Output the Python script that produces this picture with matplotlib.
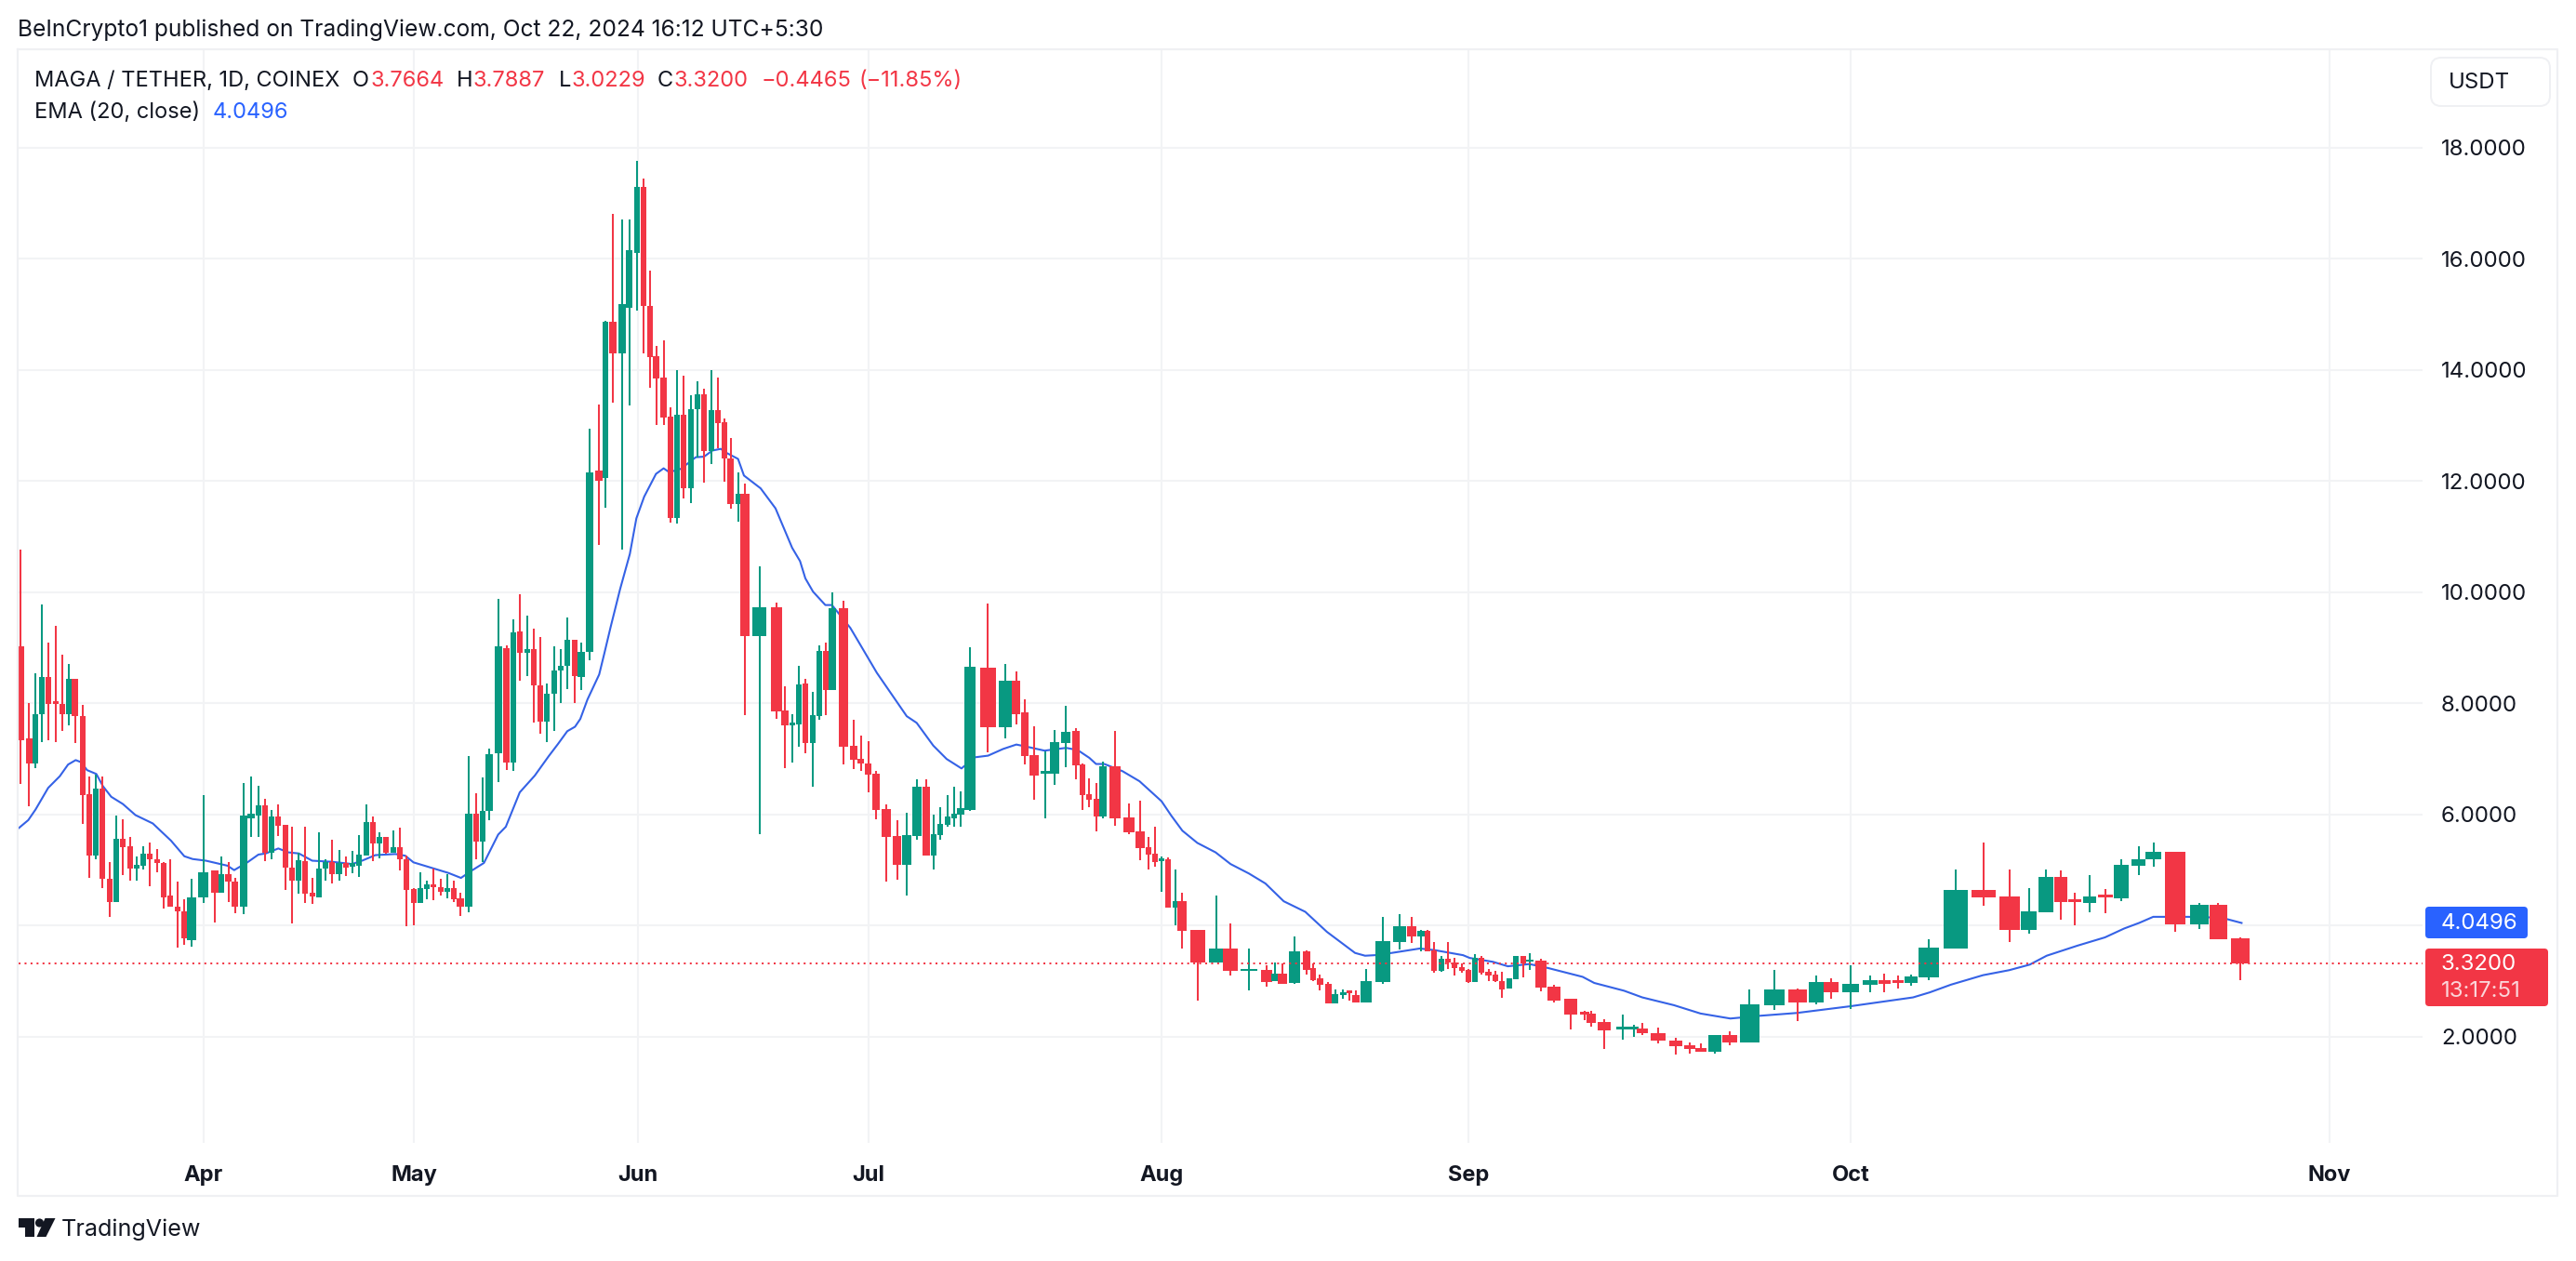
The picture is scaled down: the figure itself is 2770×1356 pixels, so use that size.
#!/usr/bin/env python3
# -*- coding: utf-8 -*-

import numpy as np
import matplotlib
matplotlib.use("Agg")
import matplotlib.pyplot as plt
from matplotlib.patches import Circle, FancyBboxPatch, Polygon

plt.rcParams['font.family'] = ['Inter', 'DejaVu Sans']

# bars (the time axis of this image is not linear,
# so the bar positions are read too, in the axis' own units)
bar_x = [
    22.1, 31.1, 38.2, 45.0, 52.1, 60.0, 66.8, 73.9, 80.7, 88.9,
    96.1, 103.2, 110.0, 117.9, 125.0, 132.1, 140.0, 146.8, 153.9, 161.1,
    168.9, 175.7, 182.9, 191.1, 197.9, 206.1, 218.9, 230.7, 237.9, 245.7,
    252.9, 261.8, 270.0, 277.9, 285.0, 292.1, 298.9, 306.8, 313.9, 320.7,
    327.9, 336.1, 342.9, 350.0, 356.8, 364.6, 371.8, 378.9, 386.1, 393.9,
    401.1, 407.9, 415.0, 422.9, 430.0, 436.8, 445.0, 451.8, 458.9, 466.1,
    473.9, 481.1, 487.9, 495.0, 503.9, 511.8, 518.9, 526.1, 536.1, 544.6,
    551.8, 559.0, 567.0, 574.0, 581.0, 588.0, 596.0, 603.0, 610.0, 618.0,
    625.0, 634.0, 644.0, 651.0, 658.9, 668.9, 676.8, 685.0, 691.8, 698.9,
    705.7, 713.6, 720.7, 727.9, 735.0, 742.9, 750.0, 756.8, 765.0, 771.8,
    778.9, 785.7, 793.9, 800.7, 816.8, 835.0, 843.9, 851.8, 858.9, 866.0,
    873.9, 881.0, 888.2, 895.0, 906.8, 917.9, 925.7, 933.9, 941.8, 952.9,
    964.6, 975.0, 986.0, 996.0, 1003.9, 1011.0, 1018.9, 1026.0, 1033.2, 1042.9,
    1062.1, 1081.1, 1092.9, 1101.8, 1111.8, 1123.9, 1133.9, 1146.1, 1156.8, 1163.9,
    1171.0, 1178.9, 1186.1, 1198.9, 1213.9, 1226.1, 1235.0, 1241.8, 1249.3, 1256.0,
    1263.9, 1271.0, 1287.9, 1307.9, 1322.9, 1342.9, 1362.1, 1370.7, 1378.9, 1391.8,
    1405.0, 1412.1, 1419.3, 1428.2, 1435.7, 1444.3, 1450.7, 1457.9, 1468.9, 1486.8,
    1505.0, 1517.9, 1527.9, 1535.0, 1542.1, 1550.0, 1557.1, 1563.9, 1571.8, 1578.9,
    1585.7, 1592.9, 1600.7, 1607.9, 1615.0, 1622.9, 1630.0, 1637.9, 1645.0, 1656.8,
    1671.0, 1688.9, 1703.9, 1711.0, 1725.0, 1745.0, 1757.1, 1766.1, 1783.2, 1802.1,
    1816.8, 1828.9, 1843.9, 1860.0, 1881.1, 1907.9, 1932.9, 1952.9, 1968.9, 1990.0,
    2011.1, 2026.1, 2041.1, 2055.0, 2073.9, 2103.2, 2133.2, 2161.1, 2181.8, 2200.0,
    2216.1, 2231.1, 2246.8, 2264.0, 2281.0, 2299.8, 2315.8, 2339.3, 2365.0, 2385.2,
    2409.0,
]

bar_open = [
    9.02, 7.37, 6.92, 7.81, 8.48, 8.01, 7.99, 7.81, 8.44, 7.77,
    6.36, 5.26, 6.47, 4.85, 4.43, 5.57, 5.43, 5.02, 5.08, 5.30,
    5.20, 5.13, 4.55, 4.35, 4.26, 3.74, 4.51, 4.99, 4.59, 4.92,
    4.80, 4.34, 5.94, 5.99, 6.17, 5.32, 5.96, 5.81, 5.05, 4.81,
    5.17, 4.59, 4.51, 5.02, 5.15, 4.92, 5.13, 5.07, 5.08, 5.26,
    5.86, 5.48, 5.59, 5.32, 5.41, 5.19, 4.66, 4.41, 4.66, 4.75,
    4.70, 4.61, 4.67, 4.50, 4.34, 6.01, 5.51, 6.06, 7.10, 9.00,
    6.93, 9.29, 8.91, 8.97, 8.33, 7.68, 8.17, 8.59, 8.67, 9.14,
    8.48, 8.92, 12.19, 12.06, 14.86, 14.29, 15.11, 16.10, 17.29, 15.16,
    14.24, 13.86, 13.16, 11.34, 13.19, 11.87, 13.30, 13.57, 12.54, 13.27,
    13.06, 12.40, 11.59, 11.77, 9.21, 9.73, 7.87, 7.60, 7.63, 8.36,
    7.29, 7.77, 8.94, 8.24, 9.71, 7.23, 7.00, 6.92, 6.73, 6.10,
    5.61, 5.10, 5.61, 6.50, 5.26, 5.63, 5.81, 5.94, 6.00, 6.08,
    8.64, 7.57, 8.41, 7.84, 7.07, 6.74, 6.74, 7.29, 7.50, 6.90,
    6.37, 6.28, 5.96, 6.87, 5.95, 5.70, 5.41, 5.29, 5.16, 5.20,
    4.33, 4.44, 3.92, 3.33, 3.59, 3.18, 3.20, 3.00, 3.13, 2.97,
    3.54, 3.23, 3.05, 2.95, 2.60, 2.75, 2.81, 2.76, 2.62, 2.98,
    3.71, 3.99, 3.81, 3.91, 3.56, 3.18, 3.41, 3.33, 3.25, 3.20,
    2.98, 3.43, 3.17, 3.12, 3.01, 2.87, 3.04, 3.45, 3.35, 3.37,
    2.90, 2.68, 2.42, 2.41, 2.26, 2.14, 2.14, 2.15, 2.07, 1.94,
    1.85, 1.80, 1.74, 2.03, 1.90, 2.57, 2.85, 2.62, 2.99, 2.80,
    2.94, 3.02, 3.00, 2.97, 3.07, 3.59, 4.64, 4.52, 3.92, 4.24,
    4.87, 4.46, 4.41, 4.55, 4.50, 5.08, 5.20, 5.33, 4.03, 4.37,
    3.7664,
]

bar_high = [
    10.77, 8.01, 8.54, 9.78, 9.10, 9.40, 8.87, 8.71, 8.45, 7.97,
    6.69, 6.71, 6.69, 5.15, 5.99, 5.91, 5.59, 5.25, 5.43, 5.49,
    5.38, 5.14, 5.20, 4.80, 4.47, 4.85, 6.35, 4.99, 5.25, 5.15,
    4.86, 6.56, 6.69, 6.52, 6.29, 6.09, 6.19, 5.81, 5.78, 5.31,
    5.78, 4.86, 5.68, 5.19, 5.55, 5.37, 5.25, 5.34, 5.63, 6.19,
    5.97, 5.68, 5.59, 5.71, 5.77, 5.26, 4.67, 4.96, 4.81, 5.02,
    4.85, 4.92, 4.81, 4.60, 7.06, 6.39, 6.66, 7.19, 9.88, 9.04,
    9.52, 9.97, 9.58, 9.35, 9.20, 8.35, 9.03, 8.98, 9.55, 9.14,
    9.10, 12.94, 13.38, 14.89, 16.80, 16.70, 16.70, 17.77, 17.45, 15.78,
    14.44, 14.53, 13.32, 13.99, 13.89, 13.54, 13.80, 13.67, 14.00, 13.86,
    13.12, 12.77, 12.16, 11.96, 10.47, 9.82, 8.30, 7.80, 8.67, 8.44,
    8.20, 9.04, 9.09, 9.99, 9.84, 7.70, 7.42, 7.32, 6.79, 6.18,
    5.90, 6.04, 6.63, 6.63, 6.00, 6.14, 6.35, 6.50, 6.42, 9.01,
    9.79, 8.71, 8.57, 8.07, 7.59, 7.13, 7.52, 7.95, 7.56, 6.92,
    6.65, 6.56, 6.95, 7.50, 6.20, 6.25, 5.60, 5.78, 5.25, 5.23,
    5.01, 4.59, 3.92, 4.54, 4.04, 3.59, 3.28, 3.34, 3.32, 3.80,
    3.55, 3.32, 3.12, 2.98, 2.86, 2.85, 2.82, 2.83, 3.22, 4.16,
    4.21, 4.16, 3.92, 3.92, 3.70, 3.46, 3.70, 3.42, 3.32, 3.22,
    3.49, 3.45, 3.22, 3.18, 3.17, 3.06, 3.45, 3.45, 3.50, 3.40,
    2.93, 2.69, 2.46, 2.46, 2.31, 2.40, 2.22, 2.25, 2.17, 1.98,
    1.90, 1.88, 2.03, 2.10, 2.85, 3.20, 2.87, 3.11, 3.05, 3.29,
    3.10, 3.14, 3.11, 3.12, 3.76, 5.01, 5.49, 5.01, 4.67, 5.01,
    4.99, 4.59, 4.91, 4.66, 5.20, 5.43, 5.49, 5.33, 4.41, 4.41,
    3.7887,
]

bar_low = [
    6.55, 6.15, 6.83, 7.30, 7.33, 7.30, 7.50, 7.60, 7.28, 5.83,
    4.86, 5.20, 4.67, 4.16, 4.43, 4.91, 4.81, 4.81, 5.01, 4.71,
    4.96, 4.31, 4.34, 3.60, 3.66, 3.63, 4.41, 4.06, 4.59, 4.42,
    4.22, 4.21, 5.59, 5.59, 5.17, 5.19, 5.62, 4.64, 4.04, 4.57,
    4.41, 4.39, 4.51, 4.81, 4.76, 4.81, 4.89, 4.95, 4.87, 5.26,
    5.17, 5.21, 5.30, 5.32, 5.00, 3.99, 4.01, 4.41, 4.47, 4.46,
    4.54, 4.50, 4.43, 4.18, 4.25, 5.20, 5.15, 5.90, 6.59, 6.80,
    6.78, 8.40, 8.50, 7.65, 7.45, 7.30, 7.50, 8.00, 8.25, 8.00,
    8.24, 8.77, 10.85, 11.52, 13.41, 10.77, 13.36, 15.07, 14.29, 13.68,
    13.01, 13.01, 11.25, 11.24, 11.69, 11.61, 12.43, 11.98, 12.30, 12.59,
    11.99, 11.51, 11.27, 7.79, 5.65, 7.73, 6.84, 6.93, 7.22, 7.10,
    6.50, 7.70, 7.79, 8.24, 6.91, 6.82, 6.79, 6.40, 5.92, 4.80,
    4.82, 4.54, 5.55, 5.26, 5.01, 5.55, 5.78, 5.78, 5.78, 6.07,
    7.12, 7.37, 7.62, 6.91, 6.27, 5.94, 6.54, 6.85, 6.64, 6.08,
    6.14, 5.69, 5.93, 5.79, 5.65, 5.18, 5.01, 5.07, 4.61, 4.32,
    4.01, 3.59, 2.65, 3.33, 3.11, 2.83, 2.90, 3.00, 2.96, 2.96,
    3.12, 3.00, 2.83, 2.60, 2.60, 2.69, 2.66, 2.62, 2.62, 2.95,
    3.57, 3.69, 3.54, 3.54, 3.15, 3.17, 3.22, 3.10, 3.15, 2.97,
    2.98, 3.12, 3.00, 2.98, 2.70, 2.87, 3.04, 3.07, 3.20, 2.82,
    2.62, 2.13, 2.30, 2.19, 1.79, 1.95, 2.00, 2.04, 1.88, 1.68,
    1.70, 1.73, 1.70, 1.85, 1.90, 2.48, 2.28, 2.59, 2.69, 2.50,
    2.80, 2.80, 2.87, 2.92, 3.02, 3.59, 4.36, 3.70, 3.86, 4.24,
    4.11, 4.00, 4.24, 4.23, 4.45, 4.91, 5.06, 3.89, 3.94, 3.76,
    3.0229,
]

bar_close = [
    7.33, 6.92, 7.81, 8.48, 7.99, 7.99, 7.81, 8.44, 7.77, 6.35,
    5.26, 6.47, 4.84, 4.43, 5.57, 5.41, 5.03, 5.09, 5.30, 5.20,
    5.13, 4.51, 4.34, 4.26, 3.77, 4.51, 4.96, 4.59, 4.92, 4.79,
    4.34, 5.99, 6.01, 6.17, 5.32, 5.96, 5.79, 5.04, 4.81, 5.18,
    4.57, 4.52, 5.03, 5.15, 4.92, 5.13, 5.04, 5.13, 5.28, 5.86,
    5.48, 5.59, 5.31, 5.41, 5.19, 4.64, 4.41, 4.67, 4.75, 4.69,
    4.61, 4.67, 4.47, 4.34, 6.01, 5.51, 6.06, 7.09, 9.02, 6.93,
    9.28, 8.91, 8.97, 8.32, 7.68, 8.18, 8.60, 8.68, 9.14, 8.50,
    8.93, 12.15, 12.01, 14.86, 14.29, 15.18, 16.15, 17.29, 15.15, 14.23,
    13.85, 13.14, 11.34, 13.19, 11.87, 13.29, 13.56, 12.54, 13.27, 13.04,
    12.40, 11.59, 11.77, 9.21, 9.73, 7.86, 7.60, 7.66, 8.34, 7.29,
    7.79, 8.94, 8.24, 9.71, 7.22, 6.99, 6.92, 6.72, 6.08, 5.60,
    5.10, 5.63, 6.50, 5.26, 5.64, 5.83, 5.96, 6.01, 6.11, 8.66,
    7.57, 8.41, 7.81, 7.06, 6.70, 6.76, 7.31, 7.49, 6.89, 6.35,
    6.27, 5.97, 6.87, 5.93, 5.68, 5.40, 5.28, 5.15, 5.19, 4.32,
    4.44, 3.91, 3.33, 3.59, 3.18, 3.22, 2.98, 3.13, 2.96, 3.54,
    3.20, 3.02, 2.93, 2.60, 2.77, 2.80, 2.79, 2.62, 3.00, 3.72,
    3.99, 3.81, 3.91, 3.54, 3.18, 3.41, 3.33, 3.24, 3.18, 2.98,
    3.43, 3.15, 3.10, 3.00, 2.86, 3.05, 3.45, 3.32, 3.38, 2.88,
    2.66, 2.40, 2.40, 2.25, 2.11, 2.16, 2.16, 2.06, 1.93, 1.83,
    1.78, 1.73, 2.03, 1.90, 2.58, 2.85, 2.62, 2.99, 2.80, 2.95,
    3.02, 2.95, 2.97, 3.09, 3.60, 4.64, 4.51, 3.92, 4.26, 4.87,
    4.42, 4.43, 4.52, 4.51, 5.09, 5.20, 5.33, 4.03, 4.37, 3.76,
    3.32,
]

# EMA (20, close)
ema_x = [
    20.4, 30.4, 38.2, 51.8, 64.3, 73.2, 81.4, 87.5, 93.6, 103.6,
    110.7, 119.6, 132.1, 145.7, 164.3, 183.9, 198.2, 207.1, 221.4, 244.6,
    251.8, 266.0, 277.9, 285.7, 299.3, 310.0, 321.4, 335.7, 357.1, 378.6,
    389.3, 403.6, 425.0, 435.7, 444.6, 464.3, 482.1, 495.7, 507.1, 520.4,
    535.7, 543.9, 558.9, 575.0, 590.0, 600.0, 610.0, 618.3, 624.0, 631.7,
    644.3, 650.0, 656.7, 666.7, 677.3, 684.3, 692.7, 705.4, 713.6, 719.6,
    732.1, 748.2, 757.1, 766.0, 775.0, 782.1, 793.6, 800.0, 817.9, 833.9,
    851.8, 860.3, 866.0, 874.3, 887.5, 894.6, 914.3, 921.4, 942.9, 975.0,
    985.7, 1003.6, 1017.9, 1033.9, 1048.2, 1062.5, 1078.6, 1092.9, 1107.1, 1123.2,
    1146.4, 1158.9, 1171.4, 1178.6, 1187.5, 1207.1, 1225.3, 1249.0, 1259.5, 1271.4,
    1287.5, 1307.1, 1323.2, 1342.9, 1360.7, 1380.4, 1403.6, 1426.8, 1457.1, 1467.9,
    1478.6, 1496.4, 1526.8, 1542.9, 1573.2, 1580.4, 1605.4, 1621.4, 1644.6, 1664.3,
    1701.8, 1714.3, 1746.4, 1766.0, 1800.0, 1828.6, 1860.7, 1892.9, 1932.1, 1989.3,
    2057.1, 2075.0, 2098.0, 2132.4, 2160.5, 2182.6, 2200.8, 2233.7, 2263.5, 2284.2,
    2300.2, 2315.4, 2325.5, 2353.0, 2376.0, 2394.4, 2410.4,
]

ema_value = [
    5.76, 5.90, 6.09, 6.48, 6.69, 6.90, 6.98, 6.94, 6.80, 6.73,
    6.51, 6.32, 6.19, 5.99, 5.84, 5.53, 5.25, 5.20, 5.17, 5.08,
    5.00, 5.14, 5.28, 5.30, 5.39, 5.32, 5.30, 5.17, 5.15, 5.11,
    5.17, 5.27, 5.29, 5.26, 5.14, 5.04, 4.95, 4.86, 4.99, 5.13,
    5.64, 5.78, 6.40, 6.70, 7.05, 7.27, 7.50, 7.58, 7.72, 8.07,
    8.52, 8.91, 9.38, 10.05, 10.69, 11.33, 11.72, 12.13, 12.23, 12.16,
    12.22, 12.43, 12.44, 12.55, 12.58, 12.50, 12.40, 12.10, 11.87, 11.51,
    10.80, 10.56, 10.25, 10.01, 9.77, 9.77, 9.36, 9.16, 8.55, 7.77,
    7.65, 7.24, 7.00, 6.83, 7.03, 7.06, 7.18, 7.26, 7.21, 7.15,
    7.20, 7.16, 7.02, 6.91, 6.91, 6.78, 6.60, 6.24, 5.98, 5.71,
    5.49, 5.32, 5.11, 4.94, 4.76, 4.44, 4.25, 3.89, 3.51, 3.46,
    3.47, 3.51, 3.59, 3.56, 3.47, 3.42, 3.35, 3.27, 3.31, 3.24,
    3.08, 2.97, 2.83, 2.71, 2.57, 2.42, 2.33, 2.38, 2.43, 2.55,
    2.71, 2.80, 2.94, 3.11, 3.20, 3.30, 3.46, 3.64, 3.79, 3.95,
    4.05, 4.16, 4.16, 4.16, 4.15, 4.12, 4.0496,
]

price_ticks = [2, 4, 6, 8, 10, 12, 14, 16, 18]
month_labels = ["Apr", "May", "Jun", "Jul", "Aug", "Sep", "Oct", "Nov"]
month_x = [218.6, 445.0, 685.5, 934.0, 1249.0, 1578.7, 1990.0, 2504.5]

last_close = 3.32
last_ema = 4.0496
countdown = "13:17:51"

COULEUR_HAUSSE = '#089981'
COULEUR_BAISSE = '#F23645'
COULEUR_EMA = '#3562E6'
COULEUR_GRILLE = '#F2F3F5'
COULEUR_TEXTE = '#131722'

LARGEUR = 2770
HAUTEUR = 1356


# ============================================================================
# CHART AREA
# ============================================================================

fig = plt.figure(figsize=(LARGEUR / 100, HAUTEUR / 100), dpi=100, facecolor='white')

# axes in pixels of the picture: x 20..2605, y 53..1229
ax = fig.add_axes([20 / LARGEUR, 1 - 1229 / HAUTEUR, 2585 / LARGEUR, 1176 / HAUTEUR])
ax.set_xlim(20, 2605)
ax.set_ylim(0.092, 19.77)

x = np.array(bar_x)
o = np.array(bar_open)
h = np.array(bar_high)
l = np.array(bar_low)
c = np.array(bar_close)

couleurs = [COULEUR_HAUSSE if fin > debut else COULEUR_BAISSE for debut, fin in zip(o, c)]

# body width follows the local spacing of the bars
ecart = np.gradient(x)
largeurs = ecart * 0.88

ax.plot(ema_x, ema_value, color=COULEUR_EMA, linewidth=1.5, zorder=2)
ax.vlines(x, l, h, colors=couleurs, linewidth=1.45, zorder=3)
ax.bar(x, np.maximum(np.abs(c - o), 0.045), bottom=np.minimum(o, c), width=largeurs,
       color=couleurs, linewidth=0, zorder=4)

ax.axhline(last_close, color=COULEUR_BAISSE, linewidth=1.45, linestyle=(0, (1, 2.2)), zorder=5)

ax.set_xticks(month_x)
ax.set_xticklabels(month_labels, fontsize=17, fontweight='bold', color=COULEUR_TEXTE)
ax.set_yticks(price_ticks)
# the 4.0000 label sits under the blue EMA tag in the original, so it stays empty
ax.set_yticklabels([f"{p:.4f}" if p != 4 else "" for p in price_ticks],
                   fontsize=17.3, color=COULEUR_TEXTE)
ax.yaxis.tick_right()
ax.tick_params(axis='x', length=0, pad=17)
ax.tick_params(axis='y', length=0, pad=14.4)
ax.grid(True, color=COULEUR_GRILLE, linewidth=1.45, zorder=0)
ax.set_axisbelow(True)
for cote in ax.spines.values():
    cote.set_visible(False)


# ============================================================================
# TEXTS AND BOXES AROUND THE CHART (overlay in picture pixels)
# ============================================================================

ov = fig.add_axes([0, 0, 1, 1], zorder=10)
ov.set_xlim(0, LARGEUR)
ov.set_ylim(HAUTEUR, 0)
ov.axis('off')
ov.patch.set_alpha(0)

# frame
ov.plot([19, 2750, 2750, 19, 19], [53, 53, 1286, 1286, 53], color='#EFF0F3', linewidth=1.6)

ov.text(19, 32, "BeInCrypto1 published on TradingView.com, Oct 22, 2024 16:12 UTC+5:30",
        fontsize=17.7, color=COULEUR_TEXTE, va='center')

# legend rows
ov.text(37, 87, "MAGA / TETHER, 1D, COINEX", fontsize=17, color=COULEUR_TEXTE, va='center')
morceaux = [(379, "O", COULEUR_TEXTE), (398, "3.7664", COULEUR_BAISSE),
            (491, "H", COULEUR_TEXTE), (509, "3.7887", COULEUR_BAISSE),
            (601, "L", COULEUR_TEXTE), (615, "3.0229", COULEUR_BAISSE),
            (707, "C", COULEUR_TEXTE), (724, "3.3200", COULEUR_BAISSE),
            (819, "\u22120.4465", COULEUR_BAISSE), (924, "(\u221211.85%)", COULEUR_BAISSE)]
for xt, texte, couleur in morceaux:
    ov.text(xt, 87, texte, fontsize=17, color=couleur, va='center')
ov.text(37, 121, "EMA (20, close)", fontsize=17, color=COULEUR_TEXTE, va='center')
ov.text(229, 121, "4.0496", fontsize=17, color='#2962FF', va='center')

# currency button
ov.add_patch(FancyBboxPatch((2614, 62), 128, 52, boxstyle="round,pad=0,rounding_size=11",
                            facecolor='white', edgecolor='#EFF0F3', linewidth=1.4))
ov.text(2633, 89, "USDT", fontsize=17.3, color=COULEUR_TEXTE, va='center')

# last value labels
ov.add_patch(FancyBboxPatch((2610, 977), 106, 30, boxstyle="round,pad=2,rounding_size=4",
                            facecolor='#2962FF', edgecolor='none'))
ov.text(2625, 993, f"{last_ema:.4f}", fontsize=17.3, color='white', va='center')
ov.add_patch(FancyBboxPatch((2610, 1022), 128, 58, boxstyle="round,pad=2,rounding_size=4",
                            facecolor=COULEUR_BAISSE, edgecolor='none'))
ov.text(2625, 1037, f"{last_close:.4f}", fontsize=17.3, color='white', va='center')
ov.text(2625, 1065.5, countdown, fontsize=17.3, color='#FBD5D9', va='center')

# logo + name
ov.add_patch(Polygon([(19.5, 1310), (37, 1310), (37, 1330), (27, 1330), (27, 1320), (19.5, 1320)],
                     closed=True, facecolor=COULEUR_TEXTE, edgecolor='none'))
ov.add_patch(Circle((42.5, 1315), 4.6, facecolor=COULEUR_TEXTE, edgecolor='none'))
ov.add_patch(Polygon([(48.5, 1310), (59.5, 1310), (49.5, 1330), (39.5, 1330)],
                     closed=True, facecolor=COULEUR_TEXTE, edgecolor='none'))
ov.text(66, 1322, "TradingView", fontsize=18.1, color=COULEUR_TEXTE, va='center')

fig.savefig("out.png", dpi=100, facecolor='white')
plt.close(fig)
